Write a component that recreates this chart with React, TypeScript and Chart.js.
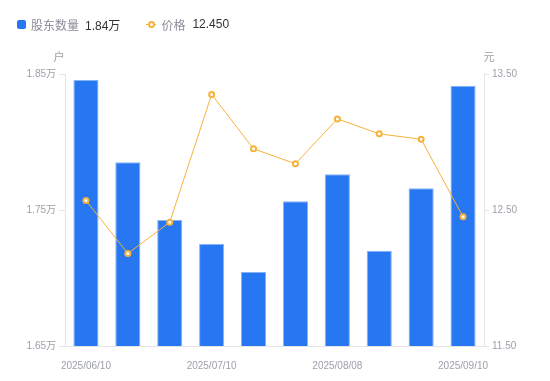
import React, { useEffect, useRef } from "react";
import { Chart, registerables } from "chart.js";

Chart.register(...registerables);

const categories = [
  "2025/06/10",
  "2025/06/20",
  "2025/06/30",
  "2025/07/10",
  "2025/07/20",
  "2025/07/31",
  "2025/08/08",
  "2025/08/20",
  "2025/08/29",
  "2025/09/10",
];
const holders = [18456, 17851, 17426, 17250, 17044, 17564, 17763, 17201, 17660, 18414];
const prices = [12.57, 12.18, 12.41, 13.35, 12.95, 12.84, 13.17, 13.06, 13.02, 12.45];
const leftTicks = [16500, 17500, 18500];
const rightTicks = [11.5, 12.5, 13.5];

const FONT = "'Liberation Sans', Arial, 'Noto Sans CJK SC', sans-serif";
const TICK_COLOR = "#9ea0ab";
const AXIS_COLOR = "#e3e4e8";
const BAR_COLOR = "#2777f3";
const LINE_COLOR = "#f7b23b";

const axisTitles = {
  id: "axisTitles",
  afterDraw(chart: any) {
    const { ctx, chartArea } = chart;
    ctx.save();
    ctx.font = `11px ${FONT}`;
    ctx.fillStyle = TICK_COLOR;
    ctx.textBaseline = "middle";
    ctx.textAlign = "center";
    ctx.fillText("户", chartArea.left - 6, chartArea.top - 16);
    ctx.fillText("元", chartArea.right + 5, chartArea.top - 16);
    ctx.restore();
  },
};

export default function App() {
  const ref = useRef<HTMLCanvasElement | null>(null);

  useEffect(() => {
    document.body.style.margin = "0";
    if (!ref.current) return;
    const chart = new Chart(ref.current, {
      type: "bar",
      data: {
        labels: categories,
        datasets: [
          {
            type: "line",
            label: "价格",
            data: prices,
            yAxisID: "y1",
            borderColor: LINE_COLOR,
            borderWidth: 1,
            pointRadius: 2.5,
            pointBorderWidth: 2,
            pointBackgroundColor: "#ffffff",
            pointBorderColor: LINE_COLOR,
            tension: 0,
            order: 0,
          } as any,
          {
            type: "bar",
            label: "股东数量",
            data: holders,
            yAxisID: "y",
            backgroundColor: BAR_COLOR,
            borderColor: "#86b4fa",
            borderWidth: { left: 1, right: 1, top: 1, bottom: 0 },
            borderSkipped: "bottom",
            barPercentage: 0.6,
            categoryPercentage: 1,
            order: 1,
          } as any,
        ],
      },
      options: {
        responsive: false,
        animation: false,
        layout: { padding: { top: 74, left: 0, right: 0, bottom: 0 } },
        plugins: {
          legend: { display: false },
          tooltip: { enabled: false },
        },
        scales: {
          x: {
            grid: { display: false },
            border: { display: true, color: AXIS_COLOR },
            ticks: {
              autoSkip: false,
              maxRotation: 0,
              padding: 6,
              color: TICK_COLOR,
              font: { size: 10, family: FONT },
              callback: (_v: any, i: number) => (i % 3 === 0 ? categories[i] : ""),
            },
            afterFit: (s: any) => {
              s.height = 35;
            },
          },
          y: {
            position: "left",
            min: leftTicks[0],
            max: leftTicks[leftTicks.length - 1],
            afterBuildTicks: (s: any) => {
              s.ticks = leftTicks.map((v) => ({ value: v }));
            },
            grid: {
              display: true,
              drawOnChartArea: false,
              drawTicks: true,
              tickLength: 6,
              color: AXIS_COLOR,
            },
            border: { display: true, color: AXIS_COLOR },
            ticks: {
              padding: 3,
              color: TICK_COLOR,
              font: { size: 10, family: FONT },
              callback: (v: any) => (Number(v) / 10000).toFixed(2) + "万",
            },
            afterFit: (s: any) => {
              s.width = 65;
            },
          },
          y1: {
            position: "right",
            min: rightTicks[0],
            max: rightTicks[rightTicks.length - 1],
            afterBuildTicks: (s: any) => {
              s.ticks = rightTicks.map((v) => ({ value: v }));
            },
            grid: {
              display: true,
              drawOnChartArea: false,
              drawTicks: true,
              tickLength: 5,
              color: AXIS_COLOR,
            },
            border: { display: true, color: AXIS_COLOR },
            ticks: {
              padding: 3,
              color: TICK_COLOR,
              font: { size: 10, family: FONT },
              callback: (v: any) => Number(v).toFixed(2),
            },
            afterFit: (s: any) => {
              s.width = 66;
            },
          },
        },
      },
      plugins: [axisTitles],
    });
    return () => chart.destroy();
  }, []);

  const lastHolders = (holders[holders.length - 1] / 10000).toFixed(2) + "万";
  const lastPrice = prices[prices.length - 1].toFixed(3);

  return (
    <div style={{ position: "relative", width: 550, height: 381, fontFamily: FONT }}>
      <canvas ref={ref} width={550} height={381} style={{ display: "block" }} />
      <div
        style={{
          position: "absolute",
          left: 17,
          top: 16,
          height: 16,
          display: "flex",
          alignItems: "center",
          fontSize: 12,
          whiteSpace: "nowrap",
        }}
      >
        <span
          style={{
            display: "inline-block",
            width: 9,
            height: 9,
            borderRadius: 2,
            background: BAR_COLOR,
            marginRight: 5,
          }}
        />
        <span style={{ color: "#8c8d99" }}>股东数量</span>
        <span style={{ color: "#333333", marginLeft: 6 }}>{lastHolders}</span>
        <span
          style={{
            position: "relative",
            display: "inline-block",
            width: 10,
            height: 10,
            marginLeft: 26,
            marginRight: 5,
          }}
        >
          <span
            style={{
              position: "absolute",
              left: 0,
              top: 4.5,
              width: 10,
              height: 1,
              background: LINE_COLOR,
            }}
          />
          <span
            style={{
              position: "absolute",
              left: 1.5,
              top: 1.5,
              width: 3,
              height: 3,
              borderRadius: "50%",
              border: `2px solid ${LINE_COLOR}`,
              background: "#ffffff",
            }}
          />
        </span>
        <span style={{ color: "#8c8d99" }}>价格</span>
        <span style={{ color: "#333333", marginLeft: 7 }}>{lastPrice}</span>
      </div>
    </div>
  );
}
